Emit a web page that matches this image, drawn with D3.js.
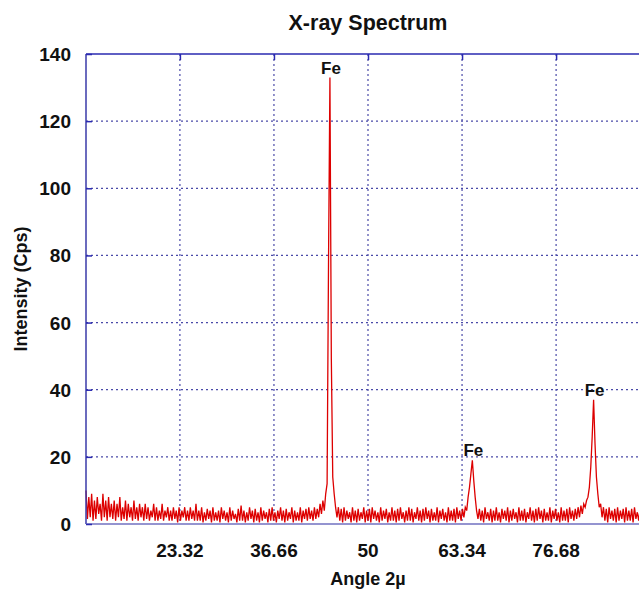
<!DOCTYPE html>
<html>
<head>
<meta charset="utf-8">
<script src="https://cdn.jsdelivr.net/npm/d3@7"></script>
<style>
  body { margin: 0; background: #fff; }
  text { font-family: "Liberation Sans", Arial, sans-serif; font-weight: bold; fill: #111; }
</style>
</head>
<body>
<script>
// Spectrum sampled every 0.2 deg starting at 10 deg (counts per second)
var angleStart = 10;
var angleStep = 0.2;
var intensity = [
  10, 1.5, 8, 2, 9, 1, 7, 1.5, 8, 3, 6, 1, 9, 2, 7, 1, 8, 2, 6, 1.5,
  7, 1, 6, 2, 8, 1, 5, 1.5, 7, 1, 6, 2, 5, 1, 7, 1.5, 5, 1, 6, 2,
  5, 1, 6, 1.5, 5, 1, 4, 2, 6, 1, 5, 1, 4, 1.5, 6, 1, 4, 2, 5, 1,
  4, 1, 5, 1.5, 4, 0.5, 5, 1, 4, 2, 5, 1, 4, 1, 5, 1.5, 4, 1, 6, 1,
  4, 1, 5, 0.5, 3.5, 1, 4.5, 1.5, 4, 0.5, 5, 1, 3.5, 1, 4, 0.5, 5, 1.5, 4, 1,
  3.5, 0.5, 5, 1, 4, 1.5, 3, 0.5, 4.5, 1, 5.5, 1, 4, 0.5, 3.5, 1, 5, 1.5, 4, 0.5,
  4.5, 1, 3.5, 0.5, 5, 1, 4, 1.5, 3.5, 0.5, 4.5, 1, 5, 1, 3.5, 0.5, 4, 1.5, 5, 1,
  4, 0.5, 4.5, 1, 3.5, 1.5, 5, 0.5, 4, 1, 3.5, 1, 5, 0.5, 4, 1.5, 4.5, 1, 5, 1.5,
  4, 1, 5, 1.5, 4.5, 2, 6, 3, 7, 4, 9, 12, 78, 133, 49, 14, 9, 5, 2, 5,
  1, 4.5, 0.5, 5, 1, 4, 1.5, 3.5, 0.5, 5, 1, 4, 0.5, 4.5, 1, 3.5, 1.5, 5, 0.5, 4,
  1, 4.5, 0.5, 5, 1.5, 4, 1, 3.5, 0.5, 5, 1, 4, 1.5, 4.5, 0.5, 3.5, 1, 5, 1, 4,
  0.5, 4.5, 1, 5, 1.5, 3.5, 0.5, 4, 1, 5, 1, 4.5, 0.5, 3.5, 1.5, 5, 1, 4, 0.5, 4.5,
  1, 5, 1.5, 4, 0.5, 4.5, 1, 3.5, 1, 5, 0.5, 4, 1.5, 4.5, 1, 3.5, 0.5, 5, 1, 4,
  1, 4.5, 0.5, 5, 1.5, 4, 1, 4.5, 2, 5, 4, 8, 11, 15, 19, 13, 8, 4, 1.5, 4.5,
  1, 4, 0.5, 5, 1.5, 3.5, 1, 4.5, 0.5, 4, 1, 5, 1, 3.5, 0.5, 4.5, 1.5, 4, 1, 5,
  0.5, 4, 1, 4.5, 1.5, 3.5, 0.5, 5, 1, 4, 1, 4.5, 0.5, 3.5, 1.5, 5, 1, 4, 0.5, 4.5,
  1, 5, 1.5, 4, 0.5, 4.5, 1, 3.5, 1, 5, 0.5, 4, 1.5, 4.5, 1, 3.5, 0.5, 5, 1, 4,
  1, 4.5, 0.5, 5, 1.5, 4, 1, 4.5, 1.5, 5, 2, 5.5, 3, 6, 5, 7, 8, 11, 17, 26,
  37, 24, 14, 9, 5, 6, 2, 5, 1, 4.5, 0.5, 5, 1.5, 4, 1, 4.5, 0.5, 5, 1, 4,
  1.5, 4.5, 0.5, 5, 1, 4, 1, 4.5, 0.5, 5, 1.5, 3.5, 1, 4.5, 0.5, 5, 1, 4, 1.5, 4.5,
  1
];

// Peak annotations
var peakAngles = [44.6, 64.8, 82.0];
var peakHeights = [133, 19, 37];
var peakLabels = ["Fe", "Fe", "Fe"];

// Axis ticks
var xTicks = [23.32, 36.66, 50, 63.34, 76.68];
var xTickLabels = ["23.32", "36.66", "50", "63.34", "76.68"];
var yTicks = [0, 20, 40, 60, 80, 100, 120, 140];

var width = 639, height = 590;
var plotLeft = 86, plotTop = 54, plotBottom = 524, plotRight = 650;

var svg = d3.select("body").append("svg")
    .attr("width", width)
    .attr("height", height);

var x = d3.scaleLinear().domain([10, 90]).range([plotLeft, plotRight]);
var y = d3.scaleLinear().domain([0, 140]).range([plotBottom, plotTop]);

// Title
svg.append("text")
  .attr("x", (plotLeft + plotRight) / 2)
  .attr("y", 30)
  .attr("text-anchor", "middle")
  .style("font-size", "21.5px")
  .text("X-ray Spectrum");

// Grid lines
svg.selectAll(".hgrid")
  .data(yTicks.filter(function(d) { return d > 0 && d < 140; }))
  .enter().append("line")
    .attr("class", "hgrid")
    .attr("x1", plotLeft).attr("x2", plotRight)
    .attr("y1", function(d) { return y(d); })
    .attr("y2", function(d) { return y(d); })
    .attr("stroke", "#4a4aa8")
    .attr("stroke-width", 1.2)
    .attr("stroke-dasharray", "2,3");

svg.selectAll(".vgrid")
  .data(xTicks)
  .enter().append("line")
    .attr("class", "vgrid")
    .attr("y1", plotTop).attr("y2", plotBottom)
    .attr("x1", function(d) { return x(d); })
    .attr("x2", function(d) { return x(d); })
    .attr("stroke", "#4a4aa8")
    .attr("stroke-width", 1.2)
    .attr("stroke-dasharray", "2,3");

// Spectrum line
var line = d3.line()
  .x(function(d, i) { return x(angleStart + i * angleStep); })
  .y(function(d) { return y(d); });

svg.append("path")
  .datum(intensity)
  .attr("d", line)
  .attr("fill", "none")
  .attr("stroke", "#dd0000")
  .attr("stroke-width", 1.3);

// Frame: solid top and left, light bottom
svg.append("line")
  .attr("x1", plotLeft).attr("x2", plotRight)
  .attr("y1", plotTop).attr("y2", plotTop)
  .attr("stroke", "#2a2ab0").attr("stroke-width", 1.5);
svg.append("line")
  .attr("x1", plotLeft).attr("x2", plotLeft)
  .attr("y1", plotTop).attr("y2", plotBottom)
  .attr("stroke", "#3a3aa8").attr("stroke-width", 1.5);
svg.append("line")
  .attr("x1", plotLeft).attr("x2", plotRight)
  .attr("y1", plotBottom).attr("y2", plotBottom)
  .attr("stroke", "#7070c0").attr("stroke-width", 1.5);

// Inner tick marks along the frame
var yAxis = svg.append("g")
  .attr("transform", "translate(" + plotLeft + ",0)")
  .call(d3.axisRight(y).tickValues(yTicks).tickSize(6).tickFormat(""));
yAxis.select(".domain").remove();
yAxis.selectAll("line").attr("stroke", "#2a2ab0").attr("stroke-width", 1.5);

var xAxisTop = svg.append("g")
  .attr("transform", "translate(0," + plotTop + ")")
  .call(d3.axisBottom(x).tickValues(xTicks).tickSize(6).tickFormat(""));
xAxisTop.select(".domain").remove();
xAxisTop.selectAll("line").attr("stroke", "#2a2ab0").attr("stroke-width", 1.5);

// Tick labels
svg.selectAll(".ylab")
  .data(yTicks)
  .enter().append("text")
    .attr("class", "ylab")
    .attr("x", 71)
    .attr("y", function(d) { return y(d) + 7; })
    .attr("text-anchor", "end")
    .style("font-size", "19px")
    .text(function(d) { return d; });

svg.selectAll(".xlab")
  .data(xTicks)
  .enter().append("text")
    .attr("class", "xlab")
    .attr("x", function(d) { return x(d); })
    .attr("y", 557)
    .attr("text-anchor", "middle")
    .style("font-size", "19px")
    .text(function(d, i) { return xTickLabels[i]; });

// Peak labels
svg.selectAll(".peak")
  .data(peakAngles)
  .enter().append("text")
    .attr("class", "peak")
    .attr("x", function(d) { return x(d) + 1; })
    .attr("y", function(d, i) { return y(peakHeights[i]) - 4; })
    .attr("text-anchor", "middle")
    .style("font-size", "17px")
    .text(function(d, i) { return peakLabels[i]; });

// Axis titles
svg.append("text")
  .attr("x", (plotLeft + plotRight) / 2)
  .attr("y", 585)
  .attr("text-anchor", "middle")
  .style("font-size", "18px")
  .text("Angle 2µ");

svg.append("text")
  .attr("transform", "translate(27," + ((plotTop + plotBottom) / 2) + ") rotate(-90)")
  .attr("text-anchor", "middle")
  .style("font-size", "18px")
  .text("Intensity (Cps)");
</script>
</body>
</html>
